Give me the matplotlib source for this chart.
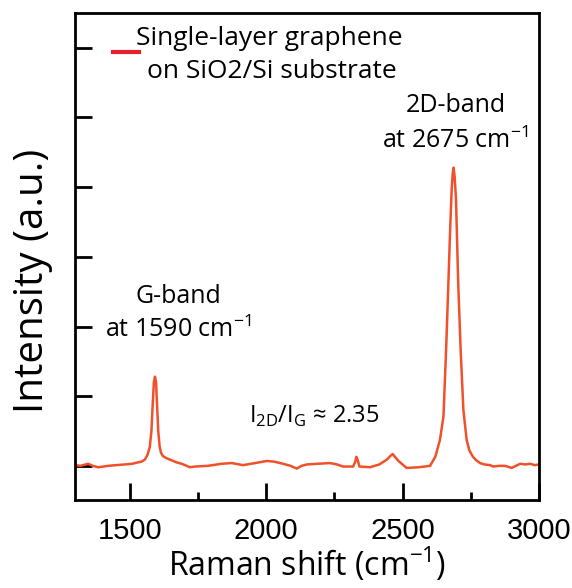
import matplotlib
matplotlib.use("Agg")
import matplotlib.pyplot as plt
from matplotlib.ticker import MultipleLocator

# spectrum (Raman shift in cm-1, intensity in arbitrary units)
raman_shift = [1300, 1320, 1348, 1365, 1385, 1405, 1421, 1450, 1483, 1510, 1531, 1544,
               1556, 1566, 1574, 1580, 1585, 1589, 1593, 1597, 1601, 1605, 1610, 1615,
               1622, 1635, 1654, 1672, 1691, 1721, 1740, 1787, 1838, 1874, 1916, 1960,
               2003, 2030, 2062, 2090, 2113, 2130, 2150, 2190, 2234, 2260, 2282, 2319,
               2326, 2331, 2336, 2342, 2381, 2415, 2443, 2455, 2464, 2472, 2485, 2500,
               2515, 2560, 2601, 2620, 2637, 2650, 2660, 2668, 2674, 2680, 2684, 2687,
               2691, 2696, 2704, 2713, 2723, 2735, 2745, 2758, 2770, 2784, 2800, 2821,
               2832, 2855, 2876, 2900, 2931, 2950, 2967, 2985, 3000]
intensity = [0.01, 0.00, 0.03, 0.00, -0.02, -0.01, 0.00, 0.01, 0.02, 0.03, 0.05, 0.06,
             0.09, 0.16, 0.27, 0.50, 0.90, 1.20, 1.28, 1.20, 0.85, 0.50, 0.28, 0.19,
             0.14, 0.11, 0.08, 0.05, 0.03, -0.02, -0.01, 0.00, 0.03, 0.04, 0.01, 0.04,
             0.07, 0.06, 0.03, 0.00, -0.04, 0.00, 0.02, 0.03, 0.04, 0.02, -0.01, -0.01,
             0.05, 0.13, 0.08, -0.01, -0.02, 0.02, 0.09, 0.14, 0.17, 0.13, 0.07, 0.02,
             -0.03, -0.02, 0.00, 0.13, 0.37, 0.71, 1.70, 2.62, 3.34, 3.96, 4.20, 4.28,
             4.15, 3.82, 2.62, 1.66, 0.80, 0.37, 0.22, 0.13, 0.08, 0.04, 0.02, 0.01,
             -0.01, 0.00, 0.00, -0.03, 0.03, 0.02, 0.03, 0.01, 0.02]

x_ticks = [1500, 2000, 2500, 3000]
y_ticks = [0, 1, 2, 3, 4, 5, 6]

plt.rcParams['font.family'] = ['Open Sans', 'DejaVu Sans']
plt.rcParams['mathtext.fontset'] = 'custom'
plt.rcParams['mathtext.rm'] = 'Open Sans'

fig = plt.figure(figsize=(5.72, 5.88), dpi=100)
ax = fig.add_axes([0.1311, 0.1497, 0.8112, 0.8282])

ax.plot(raman_shift, intensity, color='#F0502A', lw=1.8)

ax.set_xlim(1300, 3000)
ax.set_ylim(-0.49, 6.5)
ax.set_xticks(x_ticks)
ax.xaxis.set_minor_locator(MultipleLocator(250))
ax.set_yticks(y_ticks)
ax.set_yticklabels([])
ax.tick_params(axis='both', which='major', direction='in', length=12, width=2)
ax.tick_params(axis='x', which='minor', direction='in', length=6, width=2)
ax.tick_params(axis='x', which='both', top=False)
ax.tick_params(axis='y', which='both', right=False)
ax.tick_params(axis='x', labelsize=21, pad=12)
for lab in ax.get_xticklabels():
    lab.set_family('Liberation Sans')
for sp in ax.spines.values():
    sp.set_linewidth(2)

ax.set_xlabel(r'Raman shift (cm$^{\mathregular{-1}}$)', fontsize=23, labelpad=1)
ax.set_ylabel('Intensity (a.u.)', fontsize=29, va='center')
ax.yaxis.set_label_coords(-0.092, 0.45)

# annotations
ax.text(1677, 2.34, 'G-band', fontsize=18, ha='center', va='baseline')
ax.text(1677, 1.85, r'at 1590 cm$^{\mathregular{-1}}$', fontsize=18, ha='center', va='baseline')
ax.text(2694, 5.08, '2D-band', fontsize=18, ha='center', va='baseline')
ax.text(2694, 4.56, r'at 2675 cm$^{\mathregular{-1}}$', fontsize=18, ha='center', va='baseline')
ax.text(2176, 0.62, r'I$_{\mathregular{2D}}$/I$_{\mathregular{G}}$ ≈ 2.35', fontsize=17,
        ha='center', va='baseline')

# legend entry
ax.plot([1440, 1534], [5.94, 5.94], color='#E8202A', lw=3)
ax.text(1522, 6.04, 'Single-layer graphene', fontsize=19, ha='left', va='baseline')
ax.text(1564, 5.57, 'on SiO2/Si substrate', fontsize=19, ha='left', va='baseline')

fig.savefig('out.png', dpi=100)
